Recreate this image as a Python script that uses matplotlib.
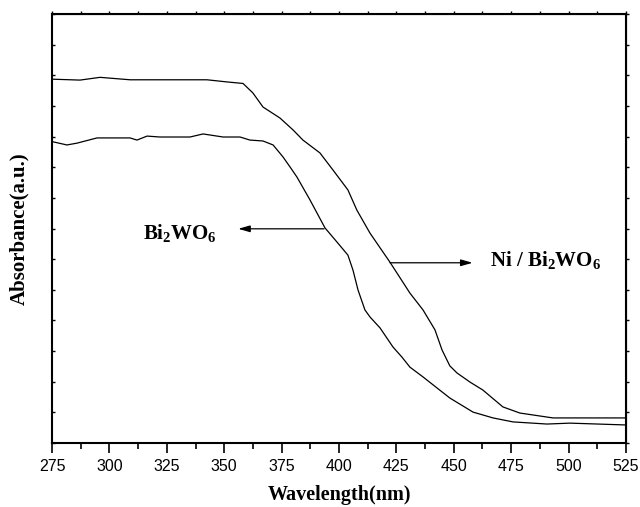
import matplotlib
matplotlib.use("Agg")
import matplotlib.pyplot as plt

plt.rcParams['font.family'] = 'Liberation Serif'
plt.rcParams['mathtext.fontset'] = 'custom'
plt.rcParams['mathtext.bf'] = 'Liberation Serif:bold'
plt.rcParams['mathtext.rm'] = 'Liberation Serif:bold'
plt.rcParams['mathtext.default'] = 'bf'

# Ni / Bi2WO6 (upper curve)
wl_ni = [275, 287.2, 295.9, 309.0, 342.5, 351.2, 358.2, 362.5, 366.9, 374.3,
         380.0, 384.3, 391.7, 397.4, 403.9, 407.8, 413.5, 422.2, 430.9, 436.6,
         441.8, 444.9, 448.3, 451.4, 457.1, 462.7, 471.4, 478.8, 493.2, 525]
abs_ni = [11.88, 11.85, 11.94, 11.86, 11.86, 11.79, 11.74, 11.43, 10.97, 10.61,
          10.22, 9.89, 9.47, 8.91, 8.26, 7.60, 6.85, 5.90, 4.89, 4.34,
          3.69, 3.03, 2.51, 2.28, 1.98, 1.72, 1.17, 0.97, 0.81, 0.81]

# Bi2WO6 (lower curve)
wl_bi = [275, 281.5, 285.9, 294.6, 309.0, 312.0, 316.4, 322.0, 335.1, 340.8,
         349.5, 356.9, 361.2, 366.9, 371.3, 375.6, 378.7, 381.7, 387.4, 393.9,
         399.1, 403.9, 406.1, 408.3, 411.3, 413.5, 417.9, 423.5, 427.4, 430.9,
         436.6, 442.7, 448.3, 458.4, 467.1, 475.8, 490.6, 500.6, 525]
abs_bi = [9.84, 9.73, 9.79, 9.96, 9.96, 9.89, 10.02, 9.99, 9.99, 10.09,
          9.99, 9.99, 9.89, 9.86, 9.73, 9.34, 9.01, 8.68, 7.93, 7.02,
          6.56, 6.13, 5.64, 4.99, 4.34, 4.11, 3.75, 3.13, 2.80, 2.47,
          2.15, 1.79, 1.46, 1.00, 0.81, 0.68, 0.61, 0.64, 0.58]

xticks = [275, 300, 325, 350, 375, 400, 425, 450, 475, 500, 525]

fig = plt.figure(figsize=(6.4, 5.07), dpi=100)
ax = fig.add_axes([0.0813, 0.1268, 0.8967, 0.845])

ax.plot(wl_ni, abs_ni, color='black', lw=0.9)
ax.plot(wl_bi, abs_bi, color='black', lw=0.9)

ax.set_xlim(275, 525)
ax.set_ylim(0, 14)
ax.set_xticks(xticks)
ax.set_xticks([x + 12.5 for x in xticks[:-1]], minor=True)
ax.set_yticks(range(0, 15))
ax.set_yticklabels([])
for lab in ax.get_xticklabels():
    lab.set_family('Liberation Sans')
ax.tick_params(axis='x', which='major', direction='out', length=7, width=1.2,
               labelsize=11.5, pad=5)
ax.tick_params(axis='x', which='minor', direction='out', length=4, width=1.2)
ax.tick_params(axis='y', direction='in', length=2.5, width=1.0)
for s in ax.spines.values():
    s.set_linewidth(1.5)

# top / right ticks point outward
axt = ax.secondary_xaxis('top')
axt.set_xticks([x + 12.5 for x in xticks[:-1]] + xticks)
axt.set_xticklabels([])
axt.tick_params(direction='out', length=2.5, width=1.0)
axr = ax.secondary_yaxis('right')
axr.set_yticks(range(0, 15))
axr.set_yticklabels([])
axr.tick_params(direction='out', length=2.5, width=1.0)

ax.set_xlabel('Wavelength(nm)', fontsize=14.5, fontweight='bold', labelpad=8)
ax.set_ylabel('Absorbance(a.u.)', fontsize=15, fontweight='bold', labelpad=13)

ax.annotate('', xy=(356.1, 6.99), xytext=(393.5, 6.99),
            arrowprops=dict(arrowstyle='-|>,head_length=0.7,head_width=0.2',
                            color='black', lw=0.9, shrinkA=0, shrinkB=0))
ax.text(314.6, 6.65, r'Bi$_2$WO$_6$', fontsize=15, fontweight='bold')

ax.annotate('', xy=(458.2, 5.88), xytext=(422.2, 5.88),
            arrowprops=dict(arrowstyle='-|>,head_length=0.7,head_width=0.2',
                            color='black', lw=0.9, shrinkA=0, shrinkB=0))
ax.text(465.8, 5.77, r'Ni / Bi$_2$WO$_6$', fontsize=15, fontweight='bold')

fig.savefig('out.png', dpi=100)
